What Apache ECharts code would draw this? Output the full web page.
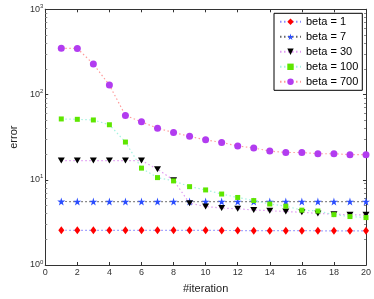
<!DOCTYPE html>
<html>
<head>
<meta charset="utf-8">
<script src="https://cdn.jsdelivr.net/npm/echarts@6/dist/echarts.min.js"></script>
<style>html,body{margin:0;padding:0;background:#fff}#c{width:374px;height:299px}</style>
</head>
<body>
<div id="c"></div>
<script>
const iterations = [1,2,3,4,5,6,7,8,9,10,11,12,13,14,15,16,17,18,19,20];
const beta1 = [2.56,2.55,2.55,2.55,2.55,2.55,2.55,2.55,2.55,2.55,2.54,2.54,2.53,2.53,2.53,2.53,2.52,2.52,2.52,2.52];
const beta7 = [5.56,5.55,5.55,5.55,5.55,5.55,5.55,5.55,5.55,5.55,5.55,5.55,5.55,5.55,5.55,5.55,5.55,5.55,5.55,5.55];
const beta30 = [16.8,16.8,16.8,16.8,16.8,16.8,13.3,9.9,5.3,4.86,4.65,4.57,4.42,4.34,4.23,4.16,4.02,3.95,3.88,3.88];
const beta100 = [51.7,51.2,50.3,44.2,27.7,13.7,10.6,9.7,8.3,7.6,6.8,6.2,5.7,5.2,4.9,4.4,4.3,3.9,3.7,3.6];
const beta700 = [349,347,228,129,56.9,47.8,40.2,35.9,32.3,29.4,27.4,24.9,23.6,21.7,20.9,20.9,20.2,20.2,19.7,19.7];
const seriesNames = ['beta = 1','beta = 7','beta = 30','beta = 100','beta = 700'];
const xTicks = [0,2,4,6,8,10,12,14,16,18,20];
const yMajorTicks = [1,10,100,1000];
const yMinorTicks = [2,3,4,5,6,7,8,9,20,30,40,50,60,70,80,90,200,300,400,500,600,700,800,900];

const STAR = 'path://M50,0 L61,35 L98,35 L68,57 L79,91 L50,70 L21,91 L32,57 L2,35 L39,35 Z';
const FONT = 'Liberation Sans';
const AX = '#333';

function pairs(arr){ return arr.map((v,i)=>[iterations[i], v]); }

const styles = [
  {data: beta1, symbol:'diamond', size:[6,8], color:'#ff0000', line:'#8c8cff'},
  {data: beta7, symbol:STAR, size:8, color:'#2a4dff', line:'#666666'},
  {data: beta30, symbol:'triangle', size:[7,6], rotate:180, color:'#000000', line:'#e09af2'},
  {data: beta100, symbol:'rect', size:5, color:'#5ee600', line:'#a6f2e0'},
  {data: beta700, symbol:'circle', size:7, color:'#b23cf0', line:'#ff9a9a'}
];

const chart = echarts.init(document.getElementById('c'), null, {renderer:'canvas'});

const baseX = {
  type:'value', min:0, max:20, interval:2,
  axisLine:{show:true, onZero:false, lineStyle:{color:AX, width:1}},
  axisTick:{show:true, inside:true, length:3, lineStyle:{color:AX}},
  splitLine:{show:false}
};
const baseY = {
  type:'log', logBase:10, min:1, max:1000,
  axisLine:{show:true, onZero:false, lineStyle:{color:AX, width:1}},
  splitLine:{show:false}, minorTick:{show:false}, minorSplitLine:{show:false}
};

chart.setOption({
  animation:false,
  backgroundColor:'#fff',
  textStyle:{fontFamily:FONT},
  grid:{left:31, right:7.3, top:9.3, bottom:25, containLabel:false},
  legend:{
    orient:'vertical', right:11.7, top:13.3,
    data: seriesNames,
    backgroundColor:'#fff', borderColor:'#000', borderWidth:1,
    padding:[3,4,3,5], itemWidth:21, itemHeight:8, itemGap:4,
    textStyle:{fontFamily:FONT, fontSize:11, color:'#000'}
  },
  xAxis:[
    Object.assign({}, baseX, {position:'bottom',
      axisLabel:{show:true, fontFamily:FONT, fontSize:9, color:'#333', margin:3, customValues:xTicks},
      name:'#iteration', nameLocation:'middle', nameGap:18,
      nameTextStyle:{fontFamily:FONT, fontSize:11, color:'#222'}}),
    Object.assign({}, baseX, {position:'top', axisLabel:{show:false}})
  ],
  yAxis:[
    Object.assign({}, baseY, {position:'left',
      axisTick:{show:true, inside:true, length:3, lineStyle:{color:AX}, customValues:yMajorTicks},
      axisLabel:{show:true, margin:2, customValues:yMajorTicks,
        formatter:function(v){ return '{b|10}{s|' + Math.round(Math.log10(v)) + '}'; },
        rich:{b:{fontFamily:FONT, fontSize:9, color:'#333'}, s:{fontFamily:FONT, fontSize:6, color:'#333', verticalAlign:'top', padding:[0,0,6,0]}}},
      name:'error', nameLocation:'middle', nameGap:18,
      nameTextStyle:{fontFamily:FONT, fontSize:11, color:'#222'}}),
    Object.assign({}, baseY, {position:'left',
      axisTick:{show:true, inside:true, length:2, lineStyle:{color:'#888'}, customValues:yMinorTicks},
      axisLabel:{show:false}}),
    Object.assign({}, baseY, {position:'right',
      axisTick:{show:true, inside:true, length:3, lineStyle:{color:AX}, customValues:yMajorTicks},
      axisLabel:{show:false}}),
    Object.assign({}, baseY, {position:'right',
      axisTick:{show:true, inside:true, length:2, lineStyle:{color:'#888'}, customValues:yMinorTicks},
      axisLabel:{show:false}})
  ],
  series: styles.map((s,i)=>({
    name: seriesNames[i], type:'line', xAxisIndex:0, yAxisIndex:0,
    data: pairs(s.data),
    symbol: s.symbol, symbolSize: s.size, symbolRotate: s.rotate || 0,
    showAllSymbol:true,
    itemStyle:{color:s.color, borderWidth:0},
    lineStyle:{color:s.line, width:1.2, type:[1.5,2.5]},
    emphasis:{disabled:true}
  }))
});
</script>
</body>
</html>
